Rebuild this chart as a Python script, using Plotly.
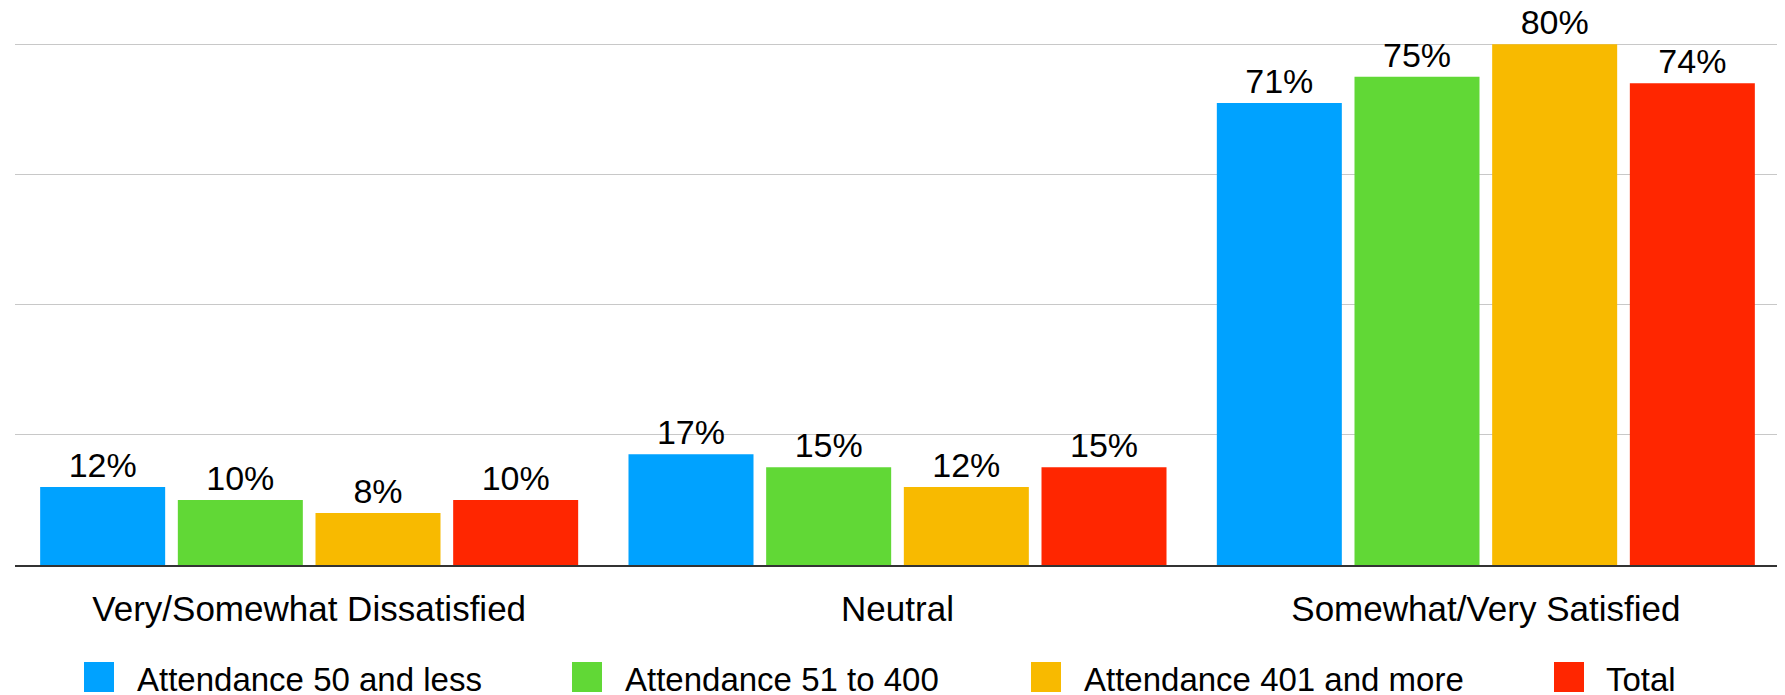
import plotly.graph_objects as go

categories = ["Very/Somewhat Dissatisfied", "Neutral", "Somewhat/Very Satisfied"]
series_names = ["Attendance 50 and less", "Attendance 51 to 400", "Attendance 401 and more", "Total"]
att_50_less = [12, 17, 71]
att_51_400 = [10, 15, 75]
att_401_more = [8, 12, 80]
total = [10, 15, 74]
series_values = [att_50_less, att_51_400, att_401_more, total]
colors = ["#00A2FF", "#61D836", "#F8BA00", "#FF2600"]

# page has an 8px default body margin; size the figure to fit the window
OFF = 8
W, H = 1785 - OFF, 695 - OFF
ML, MR, MT, MB = 7, 5, 35, 130
PW, PH = W - ML - MR, H - MT - MB
FONT = "Helvetica Neue, Helvetica, Arial, Liberation Sans, sans-serif"

fig = go.Figure()
for name, vals, col in zip(series_names, series_values, colors):
    fig.add_trace(go.Bar(
        x=categories, y=vals, name=name,
        marker=dict(color=col, line=dict(width=0)),
        text=[f"{v}%" for v in vals],
        textposition="outside",
        textfont=dict(size=34, color="#000000", family=FONT),
        cliponaxis=False,
        showlegend=False,
    ))

def px_to_paper_x(px):
    return (px - OFF - ML) / PW

def px_to_paper_y(py):
    return (H - MB - (py - OFF)) / PH

# legend entries (squares + labels), positions in window pixels
sq_left = [84, 572, 1031, 1554]
txt_left = [135, 623, 1082, 1604]
sq_size = 30
sq_top = 662
shapes = []
annotations = []
for name, col, sx, tx in zip(series_names, colors, sq_left, txt_left):
    shapes.append(dict(
        type="rect", xref="paper", yref="paper",
        x0=px_to_paper_x(sx), x1=px_to_paper_x(sx + sq_size),
        y0=px_to_paper_y(sq_top + sq_size), y1=px_to_paper_y(sq_top),
        fillcolor=col, line=dict(width=0), layer="above",
    ))
    annotations.append(dict(
        text=name, xref="paper", yref="paper",
        x=px_to_paper_x(tx), y=px_to_paper_y(679),
        xanchor="left", yanchor="middle", showarrow=False,
        font=dict(size=33, color="#000000", family=FONT),
    ))

fig.update_layout(
    width=W, height=H,
    margin=dict(l=ML, r=MR, t=MT, b=MB, pad=0),
    paper_bgcolor="white", plot_bgcolor="white",
    barmode="group", bargap=0.064, bargroupgap=0.092,
    font=dict(family=FONT, color="#000000"),
    shapes=shapes, annotations=annotations,
    xaxis=dict(
        showline=True, linecolor="#333333", linewidth=1.5,
        showgrid=False, ticks="", tickfont=dict(size=35, color="#000000", family=FONT),
        ticklabelstandoff=12,
    ),
    yaxis=dict(
        range=[0, 80.2], tickvals=[20, 40, 60, 80], showticklabels=False,
        showgrid=True, gridcolor="#C8C8C8", gridwidth=1.2,
        zeroline=False, showline=False, fixedrange=True,
    ),
    showlegend=False,
)

fig.write_html("out.html")
